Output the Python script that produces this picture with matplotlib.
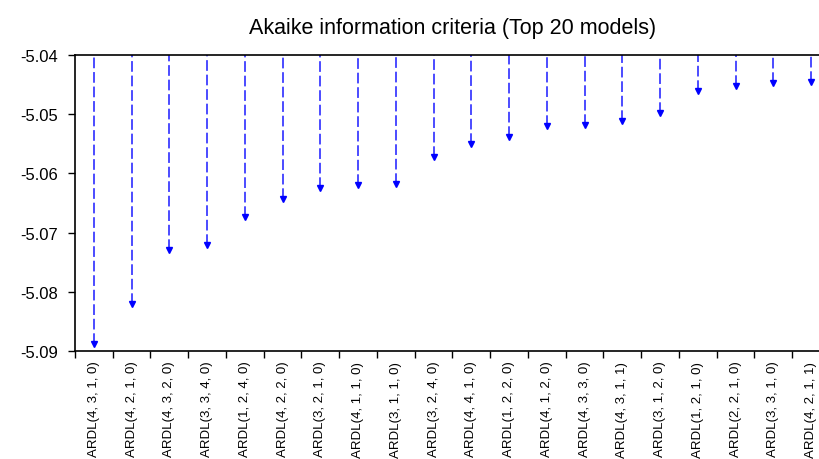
import numpy as np
from matplotlib import pyplot as plt

# Top 20 ARDL models and their Akaike information criteria
models = [
    "ARDL(4, 3, 1, 0)", "ARDL(4, 2, 1, 0)", "ARDL(4, 3, 2, 0)", "ARDL(3, 3, 4, 0)",
    "ARDL(1, 2, 4, 0)", "ARDL(4, 2, 2, 0)", "ARDL(3, 2, 1, 0)", "ARDL(4, 1, 1, 0)",
    "ARDL(3, 1, 1, 0)", "ARDL(3, 2, 4, 0)", "ARDL(4, 4, 1, 0)", "ARDL(1, 2, 2, 0)",
    "ARDL(4, 1, 2, 0)", "ARDL(4, 3, 3, 0)", "ARDL(4, 3, 1, 1)", "ARDL(3, 1, 2, 0)",
    "ARDL(1, 2, 1, 0)", "ARDL(2, 2, 1, 0)", "ARDL(3, 3, 1, 0)", "ARDL(4, 2, 1, 1)",
]
aic = [
    -5.0888, -5.0821, -5.0729, -5.0721, -5.0674, -5.0643, -5.0625, -5.0620,
    -5.0618, -5.0572, -5.0550, -5.0539, -5.0520, -5.0518, -5.0511, -5.0498,
    -5.0461, -5.0452, -5.0447, -5.0446,
]
y_ticks = [-5.09, -5.08, -5.07, -5.06, -5.05, -5.04]

plt.rcParams['font.family'] = ['Liberation Sans', 'DejaVu Sans']

fig = plt.figure(figsize=(8.2, 4.6), dpi=100)
# axes runs a little past the right edge, as in the original crop
ax = fig.add_axes([75 / 820, 1 - 352 / 460, 755 / 820, 296 / 460])

x = np.arange(len(models))
top = y_ticks[-1]

ax.vlines(x, aic, top, colors='#1a1aff', linewidth=1.1,
          linestyles=(0, (7, 2.5)))
ax.plot(x, aic, linestyle='none', marker='v', markersize=4,
        color='#0000ff')

ax.set_xlim(-0.5, len(models) - 0.5)
ax.set_ylim(y_ticks[0], y_ticks[-1])
ax.set_yticks(y_ticks)
ax.set_yticklabels([f"{v:.2f}" for v in y_ticks])

ax.set_xticks(x)
ax.set_xticklabels(models, rotation=90, va='top')
ax.set_xticks(np.arange(len(models) + 1) - 0.5, minor=True)
ax.tick_params(axis='x', which='major', length=0, pad=7, labelsize=9.5)
ax.tick_params(axis='x', which='minor', length=5, width=1, direction='out')
ax.tick_params(axis='y', length=5, width=1, direction='out', pad=7,
               labelsize=12)

ax.spines['right'].set_visible(False)
for s in ['left', 'top', 'bottom']:
    ax.spines[s].set_linewidth(1.2)

ax.set_title("Akaike information criteria (Top 20 models)", fontsize=15.5,
             pad=16)

fig.savefig("out.png", dpi=100)
